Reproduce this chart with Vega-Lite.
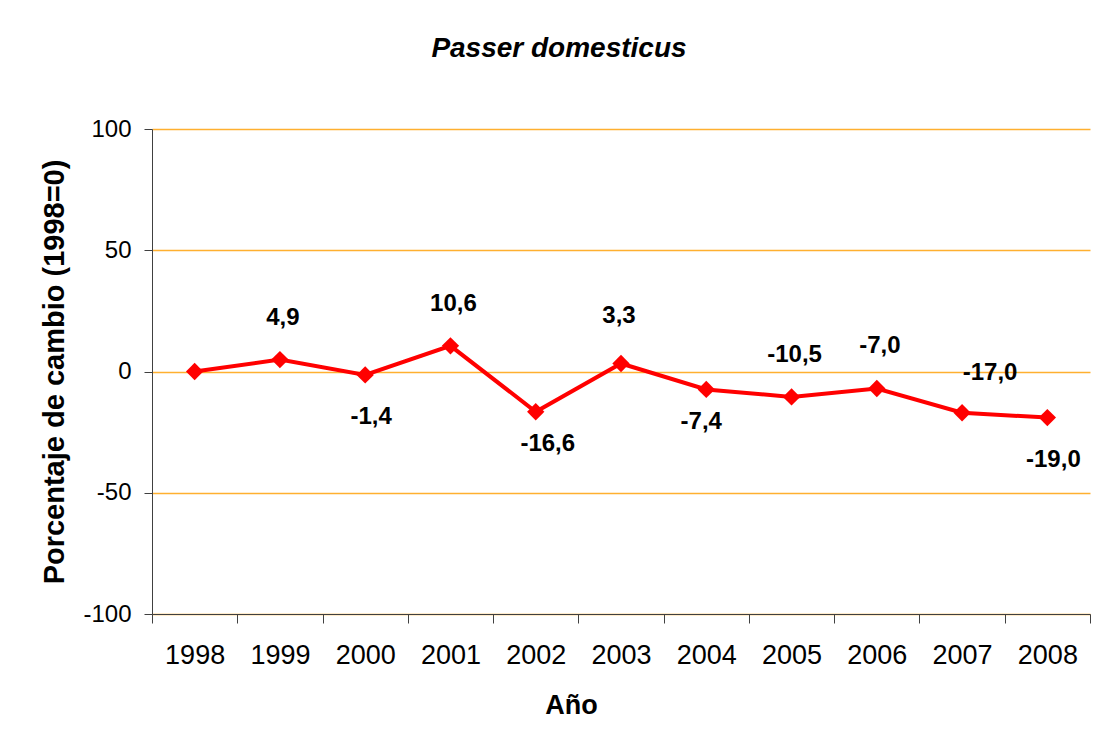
{
  "$schema": "https://vega.github.io/schema/vega-lite/v6.json",
  "autosize": "none",
  "width": 938,
  "height": 485,
  "padding": {"left": 152, "top": 129, "right": 14, "bottom": 128},
  "background": "white",
  "title": {
    "text": "Passer domesticus",
    "font": "Liberation Sans",
    "fontSize": 28,
    "fontStyle": "italic",
    "fontWeight": "bold",
    "color": "black",
    "anchor": "middle",
    "frame": "group",
    "dx": -62,
    "offset": 54
  },
  "config": {
    "locale": {"number": {"decimal": ",", "thousands": ".", "grouping": [3], "currency": ["", " €"], "minus": "-"}},
    "view": {"stroke": null}
  },
  "data": {
    "values": [
      {"anio": "1998", "cambio": 0},
      {"anio": "1999", "cambio": 4.9},
      {"anio": "2000", "cambio": -1.4},
      {"anio": "2001", "cambio": 10.6},
      {"anio": "2002", "cambio": -16.6},
      {"anio": "2003", "cambio": 3.3},
      {"anio": "2004", "cambio": -7.4},
      {"anio": "2005", "cambio": -10.5},
      {"anio": "2006", "cambio": -7.0},
      {"anio": "2007", "cambio": -17.0},
      {"anio": "2008", "cambio": -19.0}
    ]
  },
  "encoding": {
    "x": {
      "field": "anio",
      "type": "ordinal",
      "scale": {"type": "band", "paddingInner": 0, "paddingOuter": 0},
      "axis": {
        "title": "Año",
        "titleFont": "Liberation Sans",
        "titleFontSize": 27,
        "titleFontWeight": "bold",
        "titleColor": "black",
        "titlePadding": 24,
        "titleX": 419,
        "titleAlign": "center",
        "labelFont": "Liberation Sans",
        "labelFontSize": 27,
        "labelColor": "black",
        "labelAngle": 0,
        "labelPadding": 19,
        "labelBaseline": "top",
        "tickBand": "extent",
        "tickSize": 9,
        "tickColor": "#404040",
        "domainColor": "#404040",
        "grid": false
      }
    },
    "y": {
      "field": "cambio",
      "type": "quantitative",
      "scale": {"domain": [-100, 100], "nice": false},
      "axis": {
        "title": "Porcentaje de cambio (1998=0)",
        "titleFont": "Liberation Sans",
        "titleFontSize": 29,
        "titleFontWeight": "bold",
        "titleColor": "black",
        "titlePadding": 13,
        "values": [-100, -50, 0, 50, 100],
        "format": "d",
        "labelFont": "Liberation Sans",
        "labelFontSize": 24,
        "labelColor": "black",
        "labelPadding": 13,
        "tickSize": 8,
        "tickColor": "#404040",
        "domainColor": "#404040",
        "grid": true,
        "gridColor": "#FFB030",
        "gridWidth": 1.5
      }
    }
  },
  "layer": [
    {"mark": {"type": "line", "color": "#FF0000", "strokeWidth": 4}},
    {"mark": {"type": "point", "shape": "diamond", "filled": true, "color": "#FF0000", "size": 300, "opacity": 1}},
    {
      "transform": [{"filter": {"field": "anio", "oneOf": ["1999", "2001", "2005", "2006"]}}],
      "mark": {"type": "text", "dy": -42, "dx": 3, "font": "Liberation Sans", "fontSize": 24, "fontWeight": "bold", "color": "black", "baseline": "middle"},
      "encoding": {"text": {"field": "cambio", "type": "quantitative", "format": ".1f"}}
    },
    {
      "transform": [{"filter": {"field": "anio", "oneOf": ["2003"]}}],
      "mark": {"type": "text", "dy": -47, "dx": -2, "font": "Liberation Sans", "fontSize": 24, "fontWeight": "bold", "color": "black", "baseline": "middle"},
      "encoding": {"text": {"field": "cambio", "type": "quantitative", "format": ".1f"}}
    },
    {
      "transform": [{"filter": {"field": "anio", "oneOf": ["2007"]}}],
      "mark": {"type": "text", "dy": -40, "dx": 28, "font": "Liberation Sans", "fontSize": 24, "fontWeight": "bold", "color": "black", "baseline": "middle"},
      "encoding": {"text": {"field": "cambio", "type": "quantitative", "format": ".1f"}}
    },
    {
      "transform": [{"filter": {"field": "anio", "oneOf": ["2000", "2008"]}}],
      "mark": {"type": "text", "dy": 42, "dx": 6, "font": "Liberation Sans", "fontSize": 24, "fontWeight": "bold", "color": "black", "baseline": "middle"},
      "encoding": {"text": {"field": "cambio", "type": "quantitative", "format": ".1f"}}
    },
    {
      "transform": [{"filter": {"field": "anio", "oneOf": ["2002"]}}],
      "mark": {"type": "text", "dy": 32, "dx": 12, "font": "Liberation Sans", "fontSize": 24, "fontWeight": "bold", "color": "black", "baseline": "middle"},
      "encoding": {"text": {"field": "cambio", "type": "quantitative", "format": ".1f"}}
    },
    {
      "transform": [{"filter": {"field": "anio", "oneOf": ["2004"]}}],
      "mark": {"type": "text", "dy": 33, "dx": -5, "font": "Liberation Sans", "fontSize": 24, "fontWeight": "bold", "color": "black", "baseline": "middle"},
      "encoding": {"text": {"field": "cambio", "type": "quantitative", "format": ".1f"}}
    }
  ]
}
